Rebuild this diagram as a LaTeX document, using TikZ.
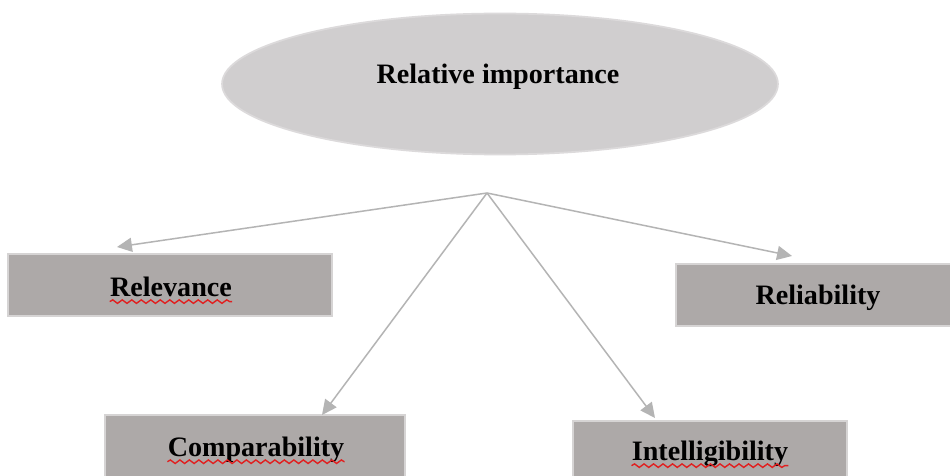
\documentclass[tikz,border=0pt]{standalone}
\usepackage{fontspec}
\setmainfont{Liberation Serif}
\usetikzlibrary{shapes.geometric,arrows.meta,decorations.pathmorphing,calc}
\definecolor{ovalfill}{HTML}{D0CECF}
\definecolor{ovaledge}{HTML}{DCDADB}
\definecolor{boxfill}{HTML}{ADA9A8}
\definecolor{boxedge}{HTML}{D6D4D4}
\definecolor{linkgrey}{HTML}{B4B4B4}
\definecolor{spellred}{HTML}{E02020}
\tikzset{
  oval/.style={ellipse, fill=ovalfill, draw=ovaledge, line width=1pt,
    minimum width=11.12cm, minimum height=2.82cm, inner sep=0pt},
  termbox/.style={rectangle, fill=boxfill, draw=boxedge, line width=1.6pt,
    minimum height=1.24cm, inner sep=0pt},
  lbl/.style={font=\fontsize{16}{18}\selectfont\bfseries, inner sep=0pt, text=black},
  link/.style={draw=linkgrey, line width=0.85pt,
    -{Triangle[length=8.5pt,width=8pt]}},
  squiggle/.style={draw=spellred, line width=0.8pt,
    decorate, decoration={snake, segment length=0.19cm, amplitude=0.035cm}}
}
\begin{document}
\begin{tikzpicture}[x=0.02cm,y=-0.02cm]
\useasboundingbox (0,0) rectangle (950,476);
\clip (0,0) rectangle (950,476);
\fill[white] (0,0) rectangle (950,476);

% central oval
\node[oval] (top) at (500,84) {};
\node[lbl] (topT) at (498,77) {Relative importance};

% the four boxes
\node[termbox, minimum width=6.48cm] (rel) at (170,285) {};
\node[lbl] (relT) at (171,287) {Relevance};
\node[termbox, minimum width=5.68cm] (rlb) at (818,295) {};
\node[lbl] (rlbT) at (818,298) {Reliability};
\node[termbox, minimum width=6cm] (cmp) at (255,446) {};
\node[lbl] (cmpT) at (256,450) {Comparability};
\node[termbox, minimum width=5.48cm] (int) at (710,452) {};
\node[lbl] (intT) at (710,454) {Intelligibility};

% spell-check underlines
\foreach \t in {relT,cmpT,intT}
  \draw[squiggle] ($(\t.base west)+(0,5)$) -- ($(\t.base east)+(0,5)$);

% branching connectors
\coordinate (apex) at (487,193);
\coordinate (toRel) at (117,247);
\coordinate (toRlb) at (792,256);
\coordinate (toCmp) at (322,415);
\coordinate (toInt) at (655,418);
\draw[link] (apex) -- (toRel);
\draw[link] (apex) -- (toRlb);
\draw[link] (apex) -- (toCmp);
\draw[link] (apex) -- (toInt);
\end{tikzpicture}
\end{document}
